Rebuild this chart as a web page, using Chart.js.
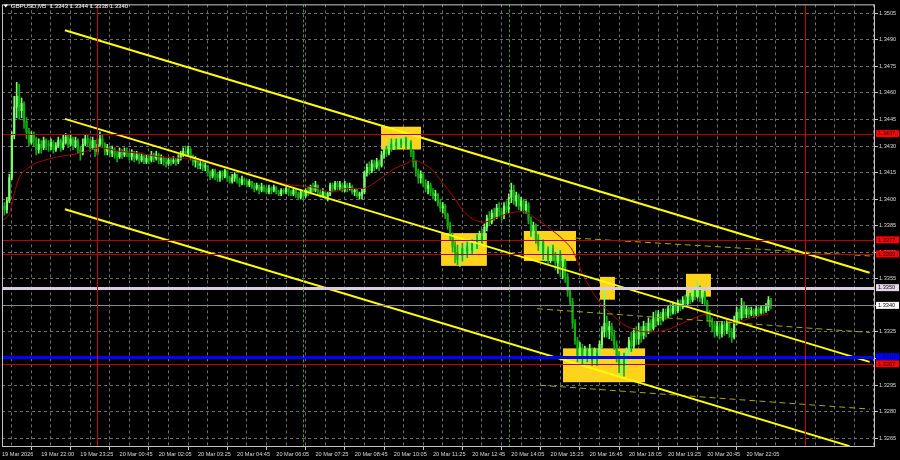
<!DOCTYPE html>
<html>
<head>
<meta charset="utf-8">
<script src="https://cdn.jsdelivr.net/npm/chart.js@4.4.1/dist/chart.umd.min.js"></script>
<style>
html, body { margin: 0; padding: 0; background: #000; }
#wrap { width: 900px; height: 460px; }
</style>
</head>
<body>
<div id="wrap"><canvas id="chart" width="900" height="460"></canvas></div>
<script>
// GBPUSD M5, bar index 0 = 19 Mar 20:xx, one bar per 5 minutes
var firstOpen = 1.3395
var closes = [
	1.3396,1.3394,1.3399,1.3412,1.3436,1.3452,1.3458,1.3450,1.3454,1.3444,
	1.3438,1.3432,1.3436,1.3434,1.3428,1.3431,1.3429,1.3433,1.3431,1.3430,
	1.3432,1.3428,1.3430,1.3433,1.3429,1.3432,1.3435,1.3431,1.3434,1.3430,
	1.3433,1.3428,1.3426,1.3431,1.3434,1.3432,1.3429,1.3433,1.3427,1.3431,
	1.3434,1.3431,1.3427,1.3429,1.3426,1.3428,1.3425,1.3424,1.3427,1.3425,
	1.3427,1.3426,1.3424,1.3426,1.3423,1.3425,1.3422,1.3424,1.3421,1.3423,
	1.3422,1.3425,1.3423,1.3425,1.3422,1.3423,1.3421,1.3420,1.3422,1.3421,
	1.3422,1.3421,1.3423,1.3425,1.3427,1.3426,1.3428,1.3424,1.3421,1.3422,
	1.3419,1.3420,1.3418,1.3419,1.3415,1.3413,1.3416,1.3414,1.3412,1.3415,
	1.3413,1.3416,1.3412,1.3410,1.3412,1.3414,1.3411,1.3409,1.3411,1.3410,
	1.3408,1.3410,1.3407,1.3406,1.3408,1.3405,1.3407,1.3406,1.3404,1.3406,
	1.3405,1.3407,1.3404,1.3403,1.3405,1.3404,1.3406,1.3404,1.3403,1.3405,
	1.3403,1.3401,1.3404,1.3402,1.3405,1.3404,1.3407,1.3405,1.3408,1.3404,
	1.3402,1.3404,1.3401,1.3403,1.3408,1.3406,1.3409,1.3407,1.3408,1.3405,
	1.3408,1.3406,1.3407,1.3404,1.3405,1.3402,1.3403,1.3404,1.3415,1.3418,
	1.3416,1.3420,1.3418,1.3421,1.3419,1.3425,1.3428,1.3426,1.3431,1.3429,
	1.3432,1.3430,1.3433,1.3431,1.3434,1.3430,1.3432,1.3427,1.3421,1.3416,
	1.3412,1.3414,1.3409,1.3406,1.3408,1.3404,1.3402,1.3403,1.3398,1.3395,
	1.3396,1.3391,1.3385,1.3379,1.3373,1.3370,1.3366,1.3372,1.3368,1.3373,
	1.3370,1.3375,1.3371,1.3376,1.3374,1.3379,1.3377,1.3384,1.3389,1.3387,
	1.3392,1.3390,1.3395,1.3393,1.3391,1.3396,1.3394,1.3401,1.3405,1.3399,
	1.3402,1.3396,1.3399,1.3394,1.3397,1.3388,1.3382,1.3385,1.3377,1.3374,
	1.3376,1.3369,1.3371,1.3366,1.3372,1.3368,1.3364,1.3369,1.3362,1.3365,
	1.3356,1.3348,1.3342,1.3330,1.3320,1.3312,1.3316,1.3310,1.3314,1.3311,
	1.3315,1.3309,1.3313,1.3310,1.3318,1.3325,1.3330,1.3326,1.3328,1.3323,
	1.3318,1.3311,1.3306,1.3310,1.3306,1.3314,1.3320,1.3317,1.3324,1.3321,
	1.3326,1.3323,1.3328,1.3325,1.3330,1.3327,1.3333,1.3331,1.3335,1.3332,
	1.3336,1.3334,1.3338,1.3336,1.3340,1.3337,1.3341,1.3339,1.3343,1.3341,
	1.3345,1.3343,1.3348,1.3345,1.3349,1.3344,1.3347,1.3342,1.3334,1.3331,
	1.3329,1.3325,1.3328,1.3324,1.3329,1.3326,1.3330,1.3325,1.3322,1.3331,
	1.3336,1.3333,1.3340,1.3335,1.3338,1.3335,1.3337,1.3335,1.3338,1.3336,
	1.3338,1.3337,1.3339,1.3343,1.3340]
var highs = [
	1.3399,1.3398,1.3401,1.3414,1.3438,1.3458,1.3466,1.3465,1.3457,1.3455,
	1.3446,1.3440,1.3438,1.3438,1.3435,1.3434,1.3433,1.3435,1.3434,1.3433,
	1.3434,1.3433,1.3432,1.3435,1.3434,1.3436,1.3437,1.3436,1.3436,1.3435,
	1.3435,1.3434,1.3430,1.3434,1.3436,1.3436,1.3434,1.3435,1.3433,1.3434,
	1.3438,1.3436,1.3432,1.3431,1.3430,1.3430,1.3429,1.3427,1.3429,1.3428,
	1.3429,1.3429,1.3427,1.3428,1.3427,1.3427,1.3426,1.3426,1.3425,1.3425,
	1.3425,1.3427,1.3426,1.3427,1.3426,1.3425,1.3424,1.3423,1.3423,1.3423,
	1.3424,1.3423,1.3425,1.3427,1.3429,1.3430,1.3430,1.3429,1.3425,1.3424,
	1.3423,1.3422,1.3421,1.3421,1.3419,1.3416,1.3417,1.3417,1.3415,1.3416,
	1.3416,1.3417,1.3416,1.3413,1.3414,1.3415,1.3414,1.3412,1.3413,1.3412,
	1.3411,1.3411,1.3410,1.3409,1.3409,1.3408,1.3409,1.3408,1.3407,1.3408,
	1.3407,1.3408,1.3407,1.3405,1.3406,1.3406,1.3407,1.3406,1.3405,1.3406,
	1.3406,1.3404,1.3405,1.3405,1.3406,1.3407,1.3408,1.3409,1.3410,1.3408,
	1.3405,1.3406,1.3404,1.3404,1.3409,1.3409,1.3410,1.3410,1.3410,1.3409,
	1.3410,1.3409,1.3409,1.3408,1.3406,1.3406,1.3404,1.3406,1.3416,1.3420,
	1.3421,1.3422,1.3422,1.3423,1.3422,1.3427,1.3430,1.3430,1.3433,1.3434,
	1.3434,1.3434,1.3435,1.3434,1.3436,1.3435,1.3434,1.3433,1.3428,1.3422,
	1.3417,1.3416,1.3415,1.3411,1.3410,1.3409,1.3406,1.3405,1.3403,1.3400,
	1.3398,1.3397,1.3392,1.3387,1.3381,1.3376,1.3374,1.3374,1.3375,1.3375,
	1.3376,1.3377,1.3377,1.3378,1.3380,1.3382,1.3383,1.3386,1.3391,1.3393,
	1.3394,1.3395,1.3397,1.3398,1.3395,1.3398,1.3399,1.3403,1.3409,1.3408,
	1.3404,1.3403,1.3401,1.3400,1.3399,1.3398,1.3390,1.3387,1.3386,1.3380,
	1.3378,1.3377,1.3374,1.3373,1.3375,1.3374,1.3370,1.3372,1.3371,1.3368,
	1.3366,1.3358,1.3350,1.3344,1.3332,1.3322,1.3319,1.3318,1.3317,1.3316,
	1.3318,1.3316,1.3316,1.3315,1.3320,1.3328,1.3350,1.3334,1.3331,1.3330,
	1.3326,1.3320,1.3314,1.3313,1.3313,1.3316,1.3322,1.3325,1.3327,1.3328,
	1.3330,1.3328,1.3331,1.3330,1.3333,1.3332,1.3336,1.3337,1.3337,1.3336,
	1.3338,1.3338,1.3340,1.3341,1.3342,1.3341,1.3343,1.3343,1.3345,1.3346,
	1.3348,1.3347,1.3350,1.3350,1.3353,1.3351,1.3349,1.3348,1.3343,1.3337,
	1.3333,1.3331,1.3331,1.3330,1.3331,1.3331,1.3332,1.3331,1.3327,1.3334,
	1.3339,1.3338,1.3344,1.3342,1.3340,1.3339,1.3339,1.3338,1.3340,1.3339,
	1.3340,1.3340,1.3341,1.3345,1.3344]
var lows = [
	1.3392,1.3391,1.3392,1.3398,1.3411,1.3434,1.3446,1.3445,1.3446,1.3440,
	1.3434,1.3430,1.3431,1.3430,1.3425,1.3426,1.3426,1.3428,1.3428,1.3427,
	1.3428,1.3426,1.3427,1.3429,1.3427,1.3428,1.3431,1.3429,1.3430,1.3428,
	1.3429,1.3426,1.3422,1.3425,1.3430,1.3430,1.3427,1.3428,1.3424,1.3425,
	1.3430,1.3429,1.3425,1.3425,1.3424,1.3424,1.3423,1.3421,1.3423,1.3423,
	1.3424,1.3424,1.3422,1.3422,1.3421,1.3422,1.3420,1.3421,1.3420,1.3420,
	1.3420,1.3421,1.3421,1.3422,1.3420,1.3420,1.3419,1.3418,1.3419,1.3419,
	1.3420,1.3419,1.3420,1.3422,1.3424,1.3424,1.3425,1.3422,1.3419,1.3418,
	1.3417,1.3417,1.3416,1.3416,1.3413,1.3411,1.3412,1.3411,1.3410,1.3410,
	1.3411,1.3412,1.3410,1.3409,1.3409,1.3410,1.3409,1.3407,1.3408,1.3408,
	1.3407,1.3407,1.3406,1.3404,1.3405,1.3403,1.3404,1.3404,1.3403,1.3403,
	1.3403,1.3404,1.3403,1.3402,1.3402,1.3403,1.3403,1.3402,1.3402,1.3402,
	1.3401,1.3400,1.3400,1.3400,1.3401,1.3402,1.3403,1.3404,1.3404,1.3402,
	1.3401,1.3401,1.3400,1.3399,1.3402,1.3404,1.3405,1.3405,1.3405,1.3404,
	1.3404,1.3404,1.3405,1.3403,1.3402,1.3401,1.3400,1.3400,1.3403,1.3413,
	1.3414,1.3415,1.3416,1.3417,1.3416,1.3418,1.3423,1.3424,1.3425,1.3427,
	1.3428,1.3428,1.3429,1.3429,1.3430,1.3428,1.3429,1.3424,1.3418,1.3413,
	1.3409,1.3409,1.3407,1.3404,1.3403,1.3402,1.3400,1.3399,1.3396,1.3393,
	1.3392,1.3389,1.3383,1.3377,1.3370,1.3364,1.3363,1.3362,1.3365,1.3366,
	1.3367,1.3368,1.3369,1.3370,1.3372,1.3373,1.3375,1.3376,1.3382,1.3385,
	1.3386,1.3388,1.3389,1.3390,1.3388,1.3389,1.3392,1.3392,1.3398,1.3397,
	1.3396,1.3394,1.3393,1.3392,1.3392,1.3386,1.3379,1.3378,1.3375,1.3371,
	1.3368,1.3366,1.3365,1.3363,1.3364,1.3365,1.3360,1.3358,1.3356,1.3355,
	1.3353,1.3345,1.3340,1.3327,1.3318,1.3308,1.3306,1.3307,1.3305,1.3308,
	1.3308,1.3306,1.3307,1.3306,1.3309,1.3316,1.3322,1.3322,1.3321,1.3320,
	1.3315,1.3308,1.3302,1.3299,1.3300,1.3304,1.3312,1.3314,1.3315,1.3318,
	1.3318,1.3319,1.3321,1.3322,1.3324,1.3325,1.3326,1.3328,1.3329,1.3329,
	1.3331,1.3332,1.3333,1.3334,1.3335,1.3335,1.3336,1.3337,1.3338,1.3339,
	1.3340,1.3341,1.3342,1.3343,1.3344,1.3342,1.3341,1.3340,1.3331,1.3328,
	1.3325,1.3322,1.3323,1.3321,1.3322,1.3323,1.3324,1.3322,1.3319,1.3321,
	1.3329,1.3330,1.3332,1.3333,1.3333,1.3333,1.3334,1.3333,1.3334,1.3334,
	1.3335,1.3335,1.3336,1.3337,1.3338]

// moving average
var maBars = [0,3,5,7,11,20,32,40,48,56,64,74,80,90,99,109,118,126,135,141,147,153,160,165,168,172,176,180,184,188,192,197,201,207,213,218,225,230,233,237,241,245,249,253,257,263,271,278,283,288,294,299,306,313]
var maValues = [1.3388,1.3392,1.3403,1.3412,1.3418,1.3423,1.3426,1.3429,1.3427,1.3426,1.3424,1.3423,1.3422,1.3418,1.3415,1.3411,1.3408,1.3407,1.3404,1.3406,1.3406,1.3410,1.3417,1.3420,1.3422,1.3420,1.3416,1.3409,1.3402,1.3394,1.3389,1.3387,1.3389,1.3392,1.3393,1.3389,1.3382,1.3376,1.3371,1.3358,1.3348,1.3340,1.3335,1.3330,1.3327,1.3325,1.3326,1.3330,1.3333,1.3335,1.3333,1.3330,1.3333,1.3335]

// trend channel (bar, price) end points
var chanBars = [25.7, 354.3]
var chanUpper = [1.34954, 1.33584]
var chanMiddle = [1.34453, 1.33081]
var chanLowerBars = [25.7, 346.1]
var chanLower = [1.33943, 1.32605]
// dashed regression channel
var regBarsA = [234, 354.4], regA = [1.33780, 1.33679]
var regBarsB = [218.5, 354.4], regB = [1.33381, 1.33247]
var regBarsC = [219.7, 354.4], regC = [1.32949, 1.32814]

// yellow zones: [bar from, bar to], [price low, price high]
var zoneBars = [[154.8,171.1],[179.3,198.0],[213.1,234.4],[244.2,250.3],[229.1,262.6],[279.3,289.5]]
var zonePrices = [[1.34280,1.34409],[1.33623,1.33808],[1.33651,1.33820],[1.33432,1.33561],[1.32966,1.33157],[1.33449,1.33578]]

var levels = [1.3437, 1.3377, 1.3369, 1.3350, 1.3340, 1.3311, 1.3307]
var levelTags = ['1.3437','1.3377','1.3369','1.3350','1.3340','1.3310','1.3307']
var redVerticals = [38.8, 327.9]
var greenVerticals = [122.9, 207.0]

var yTicks = [1.3265,1.3280,1.3295,1.3310,1.3325,1.3340,1.3355,1.3370,1.3385,1.3400,1.3415,1.3430,1.3445,1.3460,1.3475,1.3490,1.3505]
var xLabels = ['19 Mar 2026','19 Mar 22:00','19 Mar 23:25','20 Mar 00:45','20 Mar 02:05','20 Mar 03:25','20 Mar 04:45',
	'20 Mar 06:05','20 Mar 07:25','20 Mar 08:45','20 Mar 10:05','20 Mar 11:25','20 Mar 12:45','20 Mar 14:05',
	'20 Mar 15:25','20 Mar 16:45','20 Mar 18:05','20 Mar 19:25','20 Mar 20:45','20 Mar 22:05']
var title = 'GBPUSD,M5  1.3343 1.3344 1.3338 1.3340'

var bull = '#7dff6e'
var bear = '#0fae0f'
var levelColors = ['#b80000','#b80000','#b80000','#dccbe0','#8a8a8a','#0000ff','#b80000']
var levelWidths = [1, 1, 1, 3, 1, 3, 1]
var tagColors = ['#ff0000','#ff0000','#ff0000','#e6d6ea','#ffffff','#0000ff','#ff0000']
var fontFam = '"Liberation Sans", Arial, sans-serif'

var opens = closes.map(function(c, i) { return i ? closes[i - 1] : firstOpen })
var candleColors = closes.map(function(c, i) { return c >= opens[i] ? bull : bear })
var wicks = closes.map(function(c, i) { return {x: i, y: [lows[i], highs[i]]} })
var bodies = closes.map(function(c, i) { return {x: i, y: [opens[i], c]} })

function seg(bars, vals) {
	return bars.map(function(b, i) { return {x: b, y: vals[i]} })
}
function straight(data, color, width, dash, order) {
	return {type: 'line', data: data, borderColor: color, borderWidth: width, borderDash: dash || [],
		pointRadius: 0, fill: false, order: order}
}

var decor = {
	id: 'decor',
	beforeDatasetsDraw: function(chart) {
		var c = chart.ctx, a = chart.chartArea, xs = chart.scales.x, ys = chart.scales.y
		c.save()
		c.beginPath(); c.rect(a.left, a.top, a.width, a.height); c.clip()
		c.fillStyle = '#ffd21c'
		zoneBars.forEach(function(zb, i) {
			var x0 = xs.getPixelForValue(zb[0]), x1 = xs.getPixelForValue(zb[1])
			var y0 = ys.getPixelForValue(zonePrices[i][1]), y1 = ys.getPixelForValue(zonePrices[i][0])
			c.fillRect(x0, y0, x1 - x0, y1 - y0)
		})
		c.restore()
	},
	afterDatasetsDraw: function(chart) {
		var c = chart.ctx, a = chart.chartArea, xs = chart.scales.x, ys = chart.scales.y
		c.save()
		c.beginPath(); c.rect(a.left, a.top, a.width, a.height); c.clip()
		levels.forEach(function(v, i) {
			var y = Math.round(ys.getPixelForValue(v)) + (levelWidths[i] % 2 ? 0.5 : 0)
			c.strokeStyle = levelColors[i]; c.lineWidth = levelWidths[i]
			c.beginPath(); c.moveTo(a.left, y); c.lineTo(a.right, y); c.stroke()
		})
		c.lineWidth = 1
		c.strokeStyle = '#d00000'
		redVerticals.forEach(function(b) {
			var x = Math.round(xs.getPixelForValue(b)) + 0.5
			c.beginPath(); c.moveTo(x, a.top); c.lineTo(x, a.bottom); c.stroke()
		})
		c.strokeStyle = '#4f9a00'
		c.setLineDash([3, 2])
		greenVerticals.forEach(function(b) {
			var x = Math.round(xs.getPixelForValue(b)) + 0.5
			c.beginPath(); c.moveTo(x, a.top); c.lineTo(x, a.bottom); c.stroke()
		})
		c.restore()
	},
	afterDraw: function(chart) {
		var c = chart.ctx, a = chart.chartArea, ys = chart.scales.y
		c.save()
		c.strokeStyle = '#c4c4c4'; c.lineWidth = 1
		c.strokeRect(a.left + 0.5, a.top + 0.5, a.right - a.left - 1, a.bottom - a.top - 1)
		// title
		c.fillStyle = '#ffffff'
		c.beginPath(); c.moveTo(3.5, 4.5); c.lineTo(8, 4.5); c.lineTo(5.75, 7.5); c.closePath(); c.fill()
		c.font = '6px ' + fontFam
		c.textBaseline = 'middle'
		c.fillText(title, 11, 6.5)
		// price tags on the axis
		c.font = '5.6px ' + fontFam
		levels.forEach(function(v, i) {
			var y = ys.getPixelForValue(v)
			c.fillStyle = tagColors[i]
			c.fillRect(a.right + 1, y - 3.5, 23, 7)
			c.fillStyle = i === 5 ? '#000033' : '#111111'
			c.fillText(levelTags[i], a.right + 3, y + 0.3)
		})
		c.restore()
	}
}

var ctx = document.getElementById('chart').getContext('2d')
var myChart = new Chart(ctx, {
	type: 'bar',
	data: {
		datasets: [
			straight(seg(chanBars, chanUpper), '#ffff00', 2, null, 1),
			straight(seg(chanBars, chanMiddle), '#ffff00', 2, null, 1),
			straight(seg(chanLowerBars, chanLower), '#ffff00', 2, null, 1),
			straight(seg(regBarsA, regA), '#a8a800', 1, [6, 4], 2),
			straight(seg(regBarsB, regB), '#a8a800', 1, [6, 4], 2),
			straight(seg(regBarsC, regC), '#a8a800', 1, [6, 4], 2),
			{type: 'line', data: seg(maBars, maValues), borderColor: '#a80000', borderWidth: 1,
				pointRadius: 0, cubicInterpolationMode: 'monotone', order: 3},
			{type: 'bar', data: bodies, backgroundColor: candleColors, barThickness: 1.5,
				grouped: false, borderWidth: 0, order: 4},
			{type: 'bar', data: wicks, backgroundColor: candleColors, barThickness: 1,
				grouped: false, borderWidth: 0, order: 5}
		]
	},
	options: {
		responsive: false,
		animation: false,
		devicePixelRatio: 1,
		layout: {padding: {left: 2, top: 2, right: 0, bottom: 0}},
		plugins: {legend: {display: false}, tooltip: {enabled: false}},
		scales: {
			x: {
				type: 'linear', min: 0, max: 356.5, offset: false,
				afterBuildTicks: function(s) {
					var t = []
					for (var v = 0; v <= 352; v += 8) t.push({value: v})
					s.ticks = t
				},
				afterFit: function(s) { s.height = 13 },
				grid: {
					color: '#6c6c6c', tickLength: 3,
					tickColor: function(c) {
						return c.tick && c.tick.value % 16 === 0 && c.tick.value / 16 < xLabels.length ? '#c4c4c4' : 'rgba(0,0,0,0)'
					}
				},
				border: {display: false, dash: [3, 3]},
				ticks: {
					autoSkip: false, maxRotation: 0, minRotation: 0, align: 'start', padding: 1,
					color: '#d8d8d8', font: {family: fontFam, size: 5.6},
					callback: function(v) { return v % 16 === 0 && xLabels[v / 16] ? xLabels[v / 16] : '' }
				}
			},
			y: {
				type: 'linear', position: 'right', min: 1.3260, max: 1.3510,
				afterBuildTicks: function(s) { s.ticks = yTicks.map(function(v) { return {value: v} }) },
				afterFit: function(s) { s.width = 25 },
				grid: {color: '#6c6c6c', tickLength: 3, tickColor: '#c4c4c4'},
				border: {display: false, dash: [3, 3]},
				ticks: {
					padding: 1, color: '#d8d8d8', font: {family: fontFam, size: 5.6},
					callback: function(v) { return v.toFixed(4) }
				}
			}
		}
	},
	plugins: [decor]
})
</script>
</body>
</html>
